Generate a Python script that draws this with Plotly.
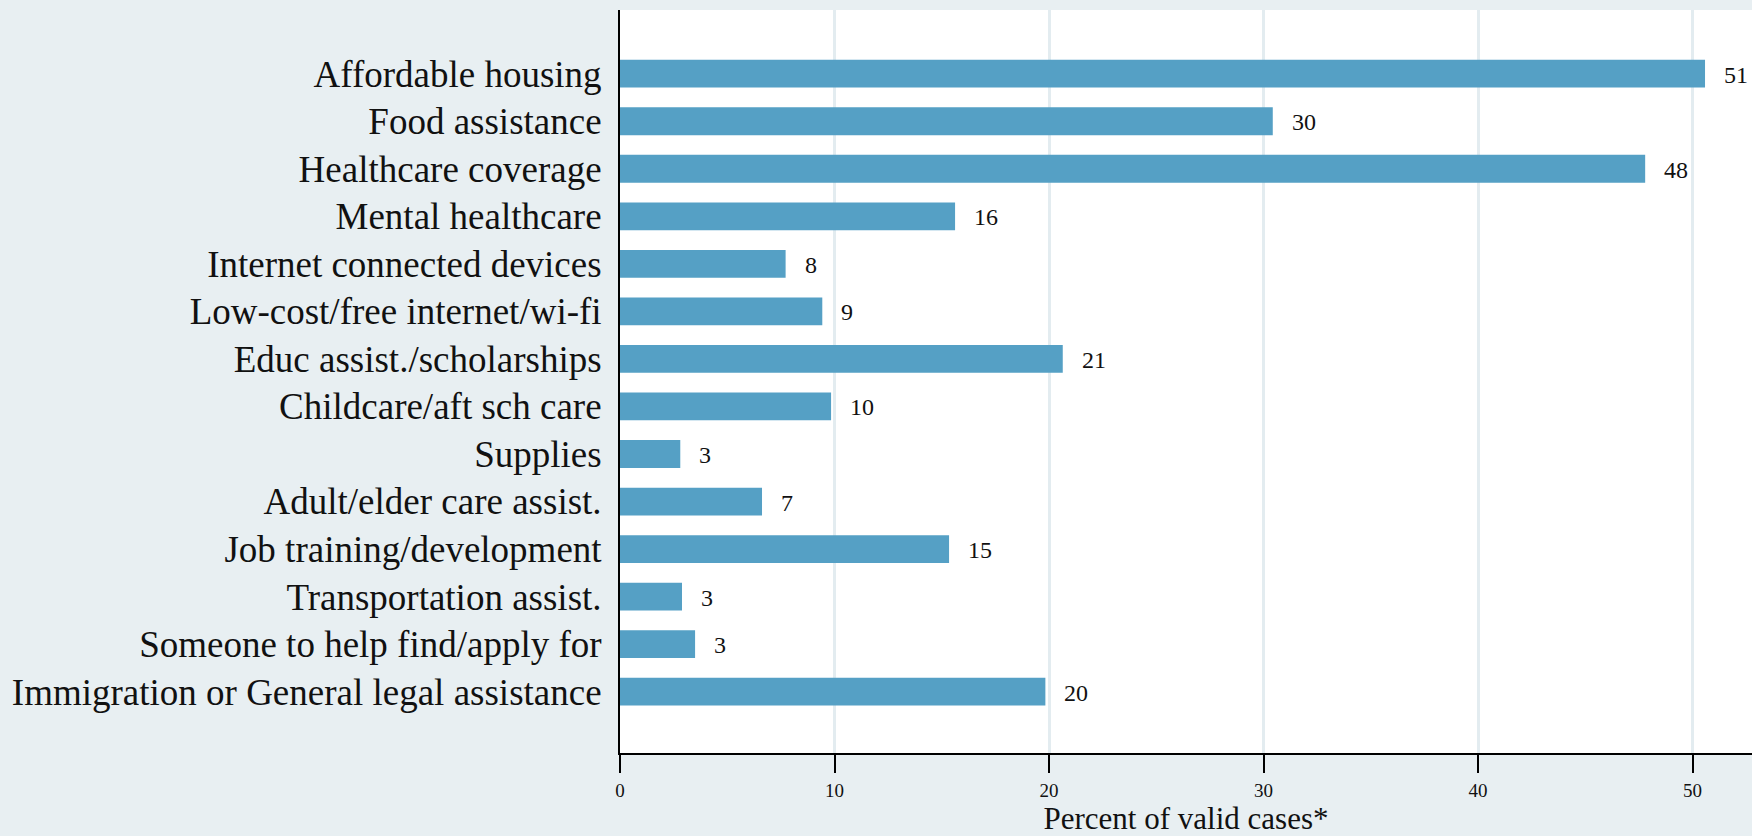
import plotly.graph_objects as go

categories = [
    "Affordable housing",
    "Food assistance",
    "Healthcare coverage",
    "Mental healthcare",
    "Internet connected devices",
    "Low-cost/free internet/wi-fi",
    "Educ assist./scholarships",
    "Childcare/aft sch care",
    "Supplies",
    "Adult/elder care assist.",
    "Job training/development",
    "Transportation assist.",
    "Someone to help find/apply for",
    "Immigration or General legal assistance",
]
values = [50.58, 30.43, 47.79, 15.62, 7.72, 9.43, 20.64, 9.84, 2.81, 6.62, 15.34, 2.89, 3.50, 19.83]
value_labels = ["51", "30", "48", "16", "8", "9", "21", "10", "3", "7", "15", "3", "3", "20"]
x_ticks = [0, 10, 20, 30, 40, 50]

FONT = "Liberation Serif, Times New Roman, serif"
BAR = "#55a0c5"
PAPER = "#e8eff2"
GRID = "#e3ecf0"

fig = go.Figure()
fig.add_trace(go.Bar(
    y=categories,
    x=values,
    orientation="h",
    marker=dict(color=BAR, line=dict(width=0)),
    hoverinfo="x+y",
))

for cat, v, lab in zip(categories, values, value_labels):
    fig.add_annotation(
        x=v, y=cat, text=lab, showarrow=False,
        xanchor="left", yanchor="middle", xshift=17, yshift=-1,
        font=dict(family=FONT, size=24, color="#111111"),
    )

fig.update_layout(
    width=1752, height=836,
    margin=dict(l=620, r=0, t=10, b=83, pad=0),
    paper_bgcolor=PAPER,
    plot_bgcolor="white",
    bargap=0.415,
    showlegend=False,
    font=dict(family=FONT, color="#111111"),
)

fig.update_xaxes(
    range=[0, 52.77],
    tickvals=x_ticks,
    ticktext=[str(t) for t in x_ticks],
    showgrid=True, gridcolor=GRID, gridwidth=3,
    zeroline=False,
    showline=True, linecolor="black", linewidth=2,
    ticks="outside", ticklen=18, tickwidth=2, tickcolor="black",
    ticklabelstandoff=1,
    tickfont=dict(family=FONT, size=19, color="#111111"),
    title=dict(text="Percent of valid cases*", font=dict(family=FONT, size=31, color="#111111"), standoff=9),
)

fig.update_yaxes(
    range=[14.29, -1.34],
    showgrid=False,
    zeroline=False,
    showline=True, linecolor="black", linewidth=2,
    ticks="",
    ticklabelstandoff=9,
    tickfont=dict(family=FONT, size=37, color="#111111"),
)

fig.write_html(
    "out.html",
    config={"displayModeBar": False},
    post_script="document.body.style.margin='0';document.body.style.overflow='hidden';",
)
